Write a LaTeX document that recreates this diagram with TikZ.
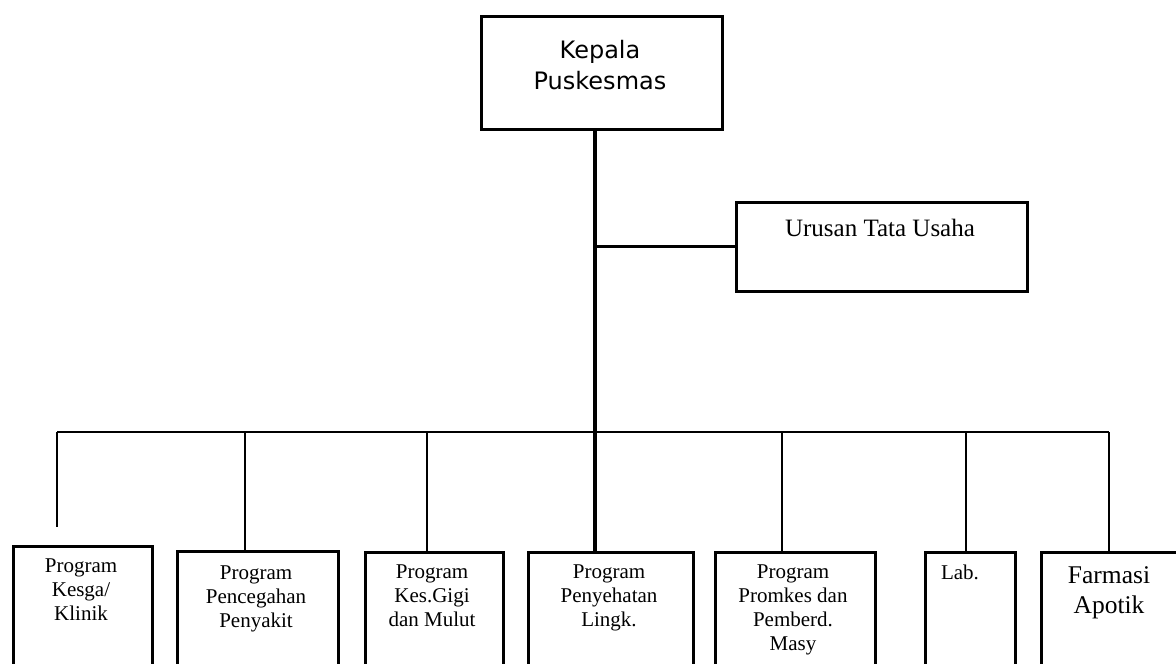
\documentclass[tikz,border=0pt]{standalone}
\usepackage{fontspec}
\setmainfont{Liberation Serif}
\newfontfamily\topfont{DejaVu Sans}
\tikzset{
  box/.style={draw, line width=3pt, anchor=north west, inner sep=0pt, minimum height=200pt},
  lbl/.style={anchor=north, align=center, inner sep=0pt, font=\fontsize{21}{24}\selectfont},
  link/.style={line width=2.8pt},
  trunk/.style={line width=3.5pt}
}
\begin{document}
\begin{tikzpicture}[x=1pt,y=-1pt]
\useasboundingbox (0,0) rectangle (1176,664);
\clip (0,0) rectangle (1176,664);
% top boxes
\node[box, minimum width=241pt, minimum height=113pt] (top) at (479.5,14.5) {};
\node[anchor=north, align=center, inner sep=0pt, font=\topfont\fontsize{24}{31}\selectfont] (ttop) at (600,40) {Kepala\\Puskesmas};
\node[box, minimum width=291pt, minimum height=89pt] (tu) at (734.5,200.5) {};
\node[anchor=base, inner sep=0pt, font=\fontsize{25}{30}\selectfont] (ttu) at (880,236) {Urusan Tata Usaha};
% bottom boxes
\node[box, line width=3.5pt, minimum width=139pt] (b1) at (11.5,544.5) {};
\node[box, minimum width=161pt] (b2) at (175.5,549.5) {};
\node[box, minimum width=138pt] (b3) at (363.5,550.5) {};
\node[box, minimum width=165pt] (b4) at (526.5,550.5) {};
\node[box, minimum width=160pt] (b5) at (713.5,550.5) {};
\node[box, minimum width=90pt] (b6) at (923.5,550.5) {};
\node[box, minimum width=160pt] (b7) at (1039.5,550.5) {};
% labels
\node[lbl] (t1) at (81,559) {Program\\Kesga/\\Klinik};
\node[lbl] (t2) at (256,566) {Program\\Pencegahan\\Penyakit};
\node[lbl] (t3) at (432,565) {Program\\Kes.Gigi\\dan Mulut};
\node[lbl] (t4) at (609,565) {Program\\Penyehatan\\Lingk.};
\node[lbl] (t5) at (793,565) {Program\\Promkes dan\\Pemberd.\\Masy};
\node[lbl] (t6) at (960,565) {Lab.};
\node[lbl, font=\fontsize{25.5}{30}\selectfont] (t7) at (1109,566) {Farmasi\\Apotik};
% junction coordinates
\coordinate (d1) at (57,432);
\coordinate (d2) at (245,432);
\coordinate (d3) at (427,432);
\coordinate (d4) at (595,432);
\coordinate (d5) at (782,432);
\coordinate (d6) at (966,432);
\coordinate (d7) at (1109,432);
\coordinate (e1) at (57,527);
% connectors
\draw[trunk] (top.south -| d4) -- (d4 |- b4.north);
\draw[link] (tu.west -| d4) -- (tu.west);
\draw[link] (d1) -- (d7);
\draw[link] (d1) -- (e1);
\draw[link] (d2) -- (d2 |- b2.north);
\draw[link] (d3) -- (d3 |- b3.north);
\draw[link] (d5) -- (d5 |- b5.north);
\draw[link] (d6) -- (d6 |- b6.north);
\draw[link] (d7) -- (d7 |- b7.north);
\end{tikzpicture}
\end{document}
